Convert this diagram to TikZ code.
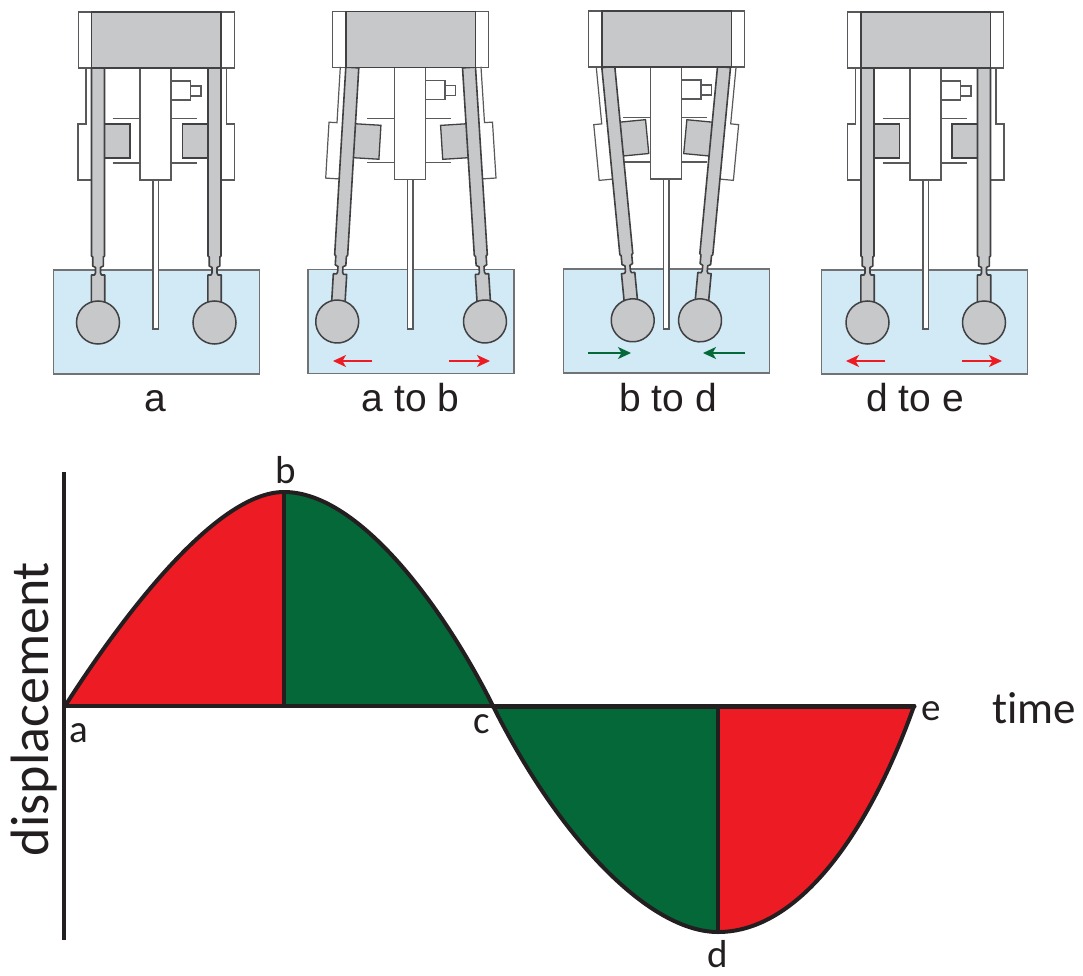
\documentclass[tikz,border=0pt]{standalone}
\usepackage{fontspec}
\setmainfont{Liberation Sans}
\newfontfamily\chartfont[Ligatures=NoCommon]{Carlito}
\usetikzlibrary{arrows.meta}
\definecolor{inkdark}{HTML}{231F20}
\definecolor{partgrey}{HTML}{C7C8CA}
\definecolor{edgedark}{HTML}{414042}
\definecolor{edgegrey}{HTML}{58595B}
\definecolor{tankblue}{HTML}{D1EAF5}
\definecolor{flowred}{HTML}{ED1C24}
\definecolor{flowgreen}{HTML}{056839}
\tikzset{
  tankbox/.style={fill=tankblue,draw=edgegrey!85,line width=1.3pt},
  bracket/.style={fill=white,draw=edgegrey,line width=1.2pt,line join=miter},
  armpart/.style={fill=partgrey,draw=edgedark,line width=1.6pt,line join=round},
  headpart/.style={fill=partgrey,draw=edgedark,line width=1.4pt},
  blockpart/.style={fill=partgrey,draw=edgedark,line width=1.3pt},
  bobpart/.style={fill=partgrey,draw=edgedark,line width=1.5pt},
  columnpart/.style={fill=white,draw=edgegrey,line width=1.2pt},
  plateline/.style={draw=edgegrey,line width=1.2pt},
  redflow/.style={line width=1.4pt,draw=flowred,fill=flowred,-{Stealth[length=13pt,width=12pt,inset=3.5pt]}},
  greenflow/.style={line width=1.4pt,draw=flowgreen,fill=flowgreen,-{Stealth[length=13pt,width=12pt,inset=3.5pt]}},
  paneltext/.style={anchor=base,inner sep=0pt,text=inkdark,font=\fontsize{39}{40}\selectfont},
  charttext/.style={anchor=base,inner sep=0pt,text=inkdark,font=\chartfont\fontsize{39}{40}\selectfont},
  timetext/.style={anchor=base,inner sep=0pt,text=inkdark,font=\chartfont\fontsize{45}{46}\selectfont},
  axistext/.style={anchor=base,inner sep=0pt,text=inkdark,font=\chartfont\fontsize{54}{56}\selectfont},
  curveline/.style={draw=inkdark,line width=4pt,line join=round,line cap=round}
}
\newcommand{\sensorarmback}[4]{%
  \begin{scope}[shift={(#1,#2)},rotate=#3,xscale=#4]
    \draw[bracket] (-12,0) -- (-12,56) -- (-20,56) -- (-20,112) -- (-6,112);
  \end{scope}}
\newcommand{\sensorarm}[4]{%
  \begin{scope}[shift={(#1,#2)},rotate=#3,xscale=#4]
    \draw[blockpart] (6,56) rectangle (32,90);
    \draw[armpart] (-6.5,0) -- (-6.5,188) -- (-5.3,189) -- (-5.3,198) -- (-2.5,199.5) -- (-2.5,205)
       -- (-3.5,207) -- (-6.7,207) -- (-6.7,235) -- (6.7,235) -- (6.7,207) -- (3.5,207)
       -- (2.5,205) -- (2.5,199.5) -- (5.3,198) -- (5.3,189) -- (6.5,188) -- (6.5,0) -- cycle;
    \draw[bobpart] (0,254.5) circle (21.5);
  \end{scope}}
\newcommand{\sensorpanel}[9]{%
  \draw[tankbox] (#4,#5) rectangle ++(206,104);
  \draw[bracket] (#2,#3) rectangle ++(-13.5,56);
  \draw[bracket] (#2+129.3,#3) rectangle ++(13.5,56);
  \sensorarmback{#6}{#3+56}{#7}{1}
  \sensorarmback{#8}{#3+56}{#9}{-1}
  \draw[plateline] (#1-27.3,#3+106.7) -- (#1,#3+106.7);
  \draw[plateline] (#1-27.3,#3+151) -- (#1,#3+151);
  \draw[plateline] (#1+31,#3+106.7) -- (#1+56.7,#3+106.7);
  \draw[plateline] (#1+31,#3+151) -- (#1+56.7,#3+151);
  \sensorarm{#6}{#3+56}{#7}{1}
  \sensorarm{#8}{#3+56}{#9}{-1}
  \draw[columnpart] (#1+13,#3+168) rectangle (#1+18.5,329);
  \draw[columnpart] (#1,#3+56) rectangle (#1+31,#3+168);
  \draw[columnpart] (#1+31,#3+69) rectangle (#1+50.5,#3+88);
  \draw[columnpart] (#1+50.5,#3+74) rectangle (#1+61,#3+84);
  \draw[headpart] (#2,#3) rectangle ++(129.3,56);
}
\begin{document}
\begin{tikzpicture}[x=1pt,y=-1pt]
\useasboundingbox (0,0) rectangle (1083,976);
\fill[white] (0,0) rectangle (1083,976);

\sensorpanel{140}{91.7}{12}{53.5}{270}{98}{0}{214.5}{0}
\sensorpanel{394.5}{346}{11.5}{308}{269.5}{352.3}{-3.4}{469}{3.6}
\sensorpanel{650.5}{602}{11}{563.7}{269}{608.3}{5.5}{724}{-5.4}
\sensorpanel{910}{861}{12}{821.3}{270}{867.5}{0}{984}{0}

\coordinate (abLt) at (372,361);   \coordinate (abLh) at (333,361);
\coordinate (abRt) at (449,361);   \coordinate (abRh) at (490,361);
\coordinate (bdLt) at (588,353);   \coordinate (bdLh) at (631,353);
\coordinate (bdRt) at (745,353);   \coordinate (bdRh) at (703,353);
\coordinate (deLt) at (885,361);   \coordinate (deLh) at (846,361);
\coordinate (deRt) at (962,361);   \coordinate (deRh) at (1002,361);
\draw[redflow] (abLt) -- (abLh);
\draw[redflow] (abRt) -- (abRh);
\draw[greenflow] (bdLt) -- (bdLh);
\draw[greenflow] (bdRt) -- (bdRh);
\draw[redflow] (deLt) -- (deLh);
\draw[redflow] (deRt) -- (deRh);

\node[paneltext] (capA) at (155,411.7) {a};
\node[paneltext] (capAB) at (410.5,411.7) {a to b};
\node[paneltext] (capBD) at (668,411.7) {b to d};
\node[paneltext] (capDE) at (915,411.7) {d to e};

\coordinate (ptA) at (65,706);
\coordinate (ptB) at (284,492);
\coordinate (ptC) at (493,706);
\coordinate (ptD) at (718,932);
\coordinate (ptE) at (914,706);
\coordinate (footB) at (284,706);
\coordinate (footD) at (718,706);
\coordinate (axisTop) at (64,472);
\coordinate (axisBot) at (64,940);

\fill[flowred] (ptA) .. controls (120,620) and (215,492) .. (ptB) -- (footB) -- cycle;
\fill[flowgreen] (ptB) .. controls (360,492) and (445,610) .. (ptC) -- (footB) -- cycle;
\fill[flowgreen] (ptC) .. controls (560,840) and (650,932) .. (ptD) -- (footD) -- cycle;
\fill[flowred] (ptD) .. controls (800,932) and (870,830) .. (ptE) -- (footD) -- cycle;

\draw[curveline,line cap=butt] (axisTop) -- (axisBot);
\draw[curveline,line cap=butt] (ptB) -- (footB);
\draw[curveline,line cap=butt,line width=3.2pt] (ptD) -- (footD);
\draw[curveline,line width=3.6pt] (ptA) -- (ptC);
\draw[curveline,line width=5pt] (ptC) -- (ptE);
\draw[curveline] (ptA) .. controls (120,620) and (215,492) .. (ptB)
  .. controls (360,492) and (445,610) .. (ptC)
  .. controls (560,840) and (650,932) .. (ptD)
  .. controls (800,932) and (870,830) .. (ptE);

\node[charttext] (lblA) at (78.7,742.7) {a};
\node[charttext] (lblB) at (286,483) {b};
\node[charttext] (lblC) at (482,733) {c};
\node[charttext] (lblD) at (718,967) {d};
\node[charttext] (lblE) at (931.6,720) {e};
\node[timetext] (lblTime) at (1034,723) {time};
\node[axistext,rotate=90] (lblDisp) at (48,709) {displacement};
\end{tikzpicture}
\end{document}
